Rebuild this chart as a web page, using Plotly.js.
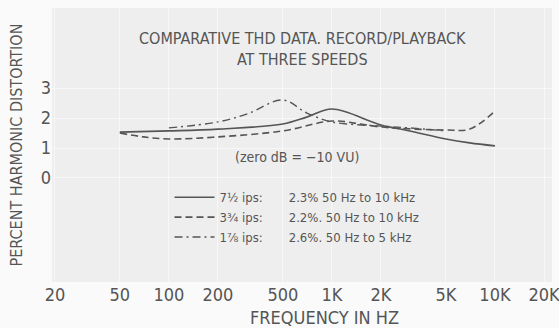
<!DOCTYPE html>
<html>
<head>
<meta charset="utf-8">
<script src="https://cdn.plot.ly/plotly-3.0.1.min.js"></script>
<style>
html,body{margin:0;padding:0;background:#fafafa;}
#chart{width:559px;height:328px;}
</style>
</head>
<body>
<div id="chart"></div>
<script>
// Frequencies (Hz) and THD (%)
const freqSolid = [50, 100, 200, 500, 700, 1000, 2000, 3000, 5000, 7000, 10000];
const thdSolid  = [1.53, 1.57, 1.63, 1.80, 2.03, 2.30, 1.77, 1.57, 1.30, 1.17, 1.07];

const freqDash = [50, 70, 100, 200, 500, 1000, 1500, 2000, 5000, 7000, 10000];
const thdDash  = [1.50, 1.37, 1.30, 1.37, 1.57, 1.90, 1.80, 1.70, 1.60, 1.63, 2.23];

const freqDashDot = [100, 200, 300, 500, 700, 1000, 2000, 3000, 5000];
const thdDashDot  = [1.67, 1.87, 2.13, 2.60, 2.17, 1.87, 1.73, 1.67, 1.57];

const seriesNames = [
  "7½ ips:\u00a0\u00a0\u00a0\u00a0\u00a0\u00a0\u00a02.3% 50 Hz to 10 kHz",
  "3¾ ips:\u00a0\u00a0\u00a0\u00a0\u00a0\u00a0\u00a02.2%. 50 Hz to 10 kHz",
  "1⅞ ips:\u00a0\u00a0\u00a0\u00a0\u00a0\u00a0\u00a02.6%. 50 Hz to 5 kHz"
];

const xTickVals = [20, 50, 100, 200, 500, 1000, 2000, 5000, 10000, 20000];
const xTickText = ["20", "50", "100", "200", "500", "1K", "2K", "5K", "10K", "20K"];
const yTickVals = [0, 1, 2, 3];
const yTickText = ["0", "1", "2", "3"];

const FONT = '"Liberation Sans Narrow", "DejaVu Sans Condensed", "Liberation Sans", sans-serif';
const LINE = '#555555';
const TEXT = '#555555';

const traces = [
  {x: freqSolid, y: thdSolid, name: seriesNames[0], mode: 'lines', line: {color: LINE, width: 1.6, dash: 'solid', shape: 'spline'}},
  {x: freqDash, y: thdDash, name: seriesNames[1], mode: 'lines', line: {color: LINE, width: 1.6, dash: '7px,4px', shape: 'spline'}},
  {x: freqDashDot, y: thdDashDot, name: seriesNames[2], mode: 'lines', line: {color: LINE, width: 1.4, dash: '8px,4px,2px,4px', shape: 'spline'}}
];

const layout = {
  width: 559, height: 328,
  paper_bgcolor: '#fafafa',
  plot_bgcolor: '#eeeeee',
  margin: {l: 52, r: 7, t: 8, b: 46},
  font: {family: FONT, color: TEXT, size: 16},
  showlegend: true,
  legend: {
    x: 0.235, y: 0.364, xanchor: 'left', yanchor: 'top',
    bgcolor: 'rgba(0,0,0,0)', font: {size: 13, color: TEXT},
    tracegroupgap: 0, itemwidth: 40, traceorder: 'normal'
  },
  xaxis: {
    type: 'log', range: [Math.log10(20) - 0.018, Math.log10(20) + 3.049],
    tickvals: xTickVals, ticktext: xTickText, tickfont: {size: 18},
    ticklabeloverflow: 'allow',
    showgrid: true, gridcolor: '#f7f7f7', gridwidth: 1,
    zeroline: false, showline: false, ticks: '', ticklen: 0
  },
  yaxis: {
    range: [-3.47, 5.67],
    tickvals: yTickVals, ticktext: yTickText, tickfont: {size: 18},
    showgrid: true, gridcolor: '#f7f7f7', gridwidth: 1,
    zeroline: false, showline: false, ticks: '', ticklen: 0,
    title: {text: 'PERCENT HARMONIC DISTORTION', font: {size: 16}, standoff: 14}
  },
  annotations: [
    {text: 'COMPARATIVE THD DATA. RECORD/PLAYBACK<br>AT THREE SPEEDS', xref: 'paper', yref: 'paper',
     x: 0.5, y: 0.849, xanchor: 'center', yanchor: 'middle', showarrow: false,
     font: {size: 16, color: TEXT}},
    {text: '(zero dB = \u221210 VU)', xref: 'paper', yref: 'paper',
     x: 0.49, y: 0.455, xanchor: 'center', yanchor: 'middle', showarrow: false,
     font: {size: 14, color: TEXT}},
    {text: 'FREQUENCY IN HZ', xref: 'paper', yref: 'paper',
     x: 0.545, y: -0.131, xanchor: 'center', yanchor: 'middle', showarrow: false,
     font: {size: 18, color: TEXT}}
  ]
};

Plotly.newPlot('chart', traces, layout, {displayModeBar: false, staticPlot: true});
</script>
</body>
</html>
